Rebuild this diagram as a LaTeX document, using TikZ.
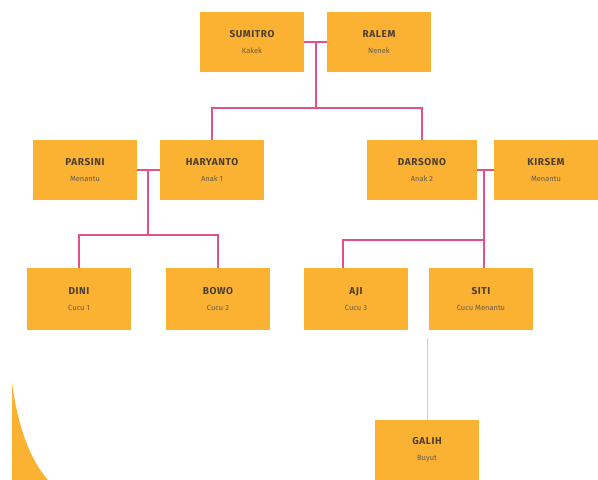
\documentclass[tikz,border=0pt]{standalone}
\usepackage{fontspec}
\setmainfont{Fira Sans}
\newfontfamily\namefont[LetterSpace=6]{Fira Sans}
\definecolor{boxyellow}{HTML}{FBB233}
\definecolor{linkpink}{HTML}{E5508A}
\definecolor{faintpink}{HTML}{EDBFD0}
\definecolor{namegray}{HTML}{4A3E30}
\newcommand{\person}[2]{{\namefont\fontsize{10}{11}\selectfont\bfseries #1}\\[4pt]{\fontsize{7.5}{8}\selectfont\color{namegray!85} #2}}
\begin{document}
\begin{tikzpicture}[
        x=1pt, y=-1pt,
        personn/.style={fill=boxyellow, minimum width=104pt, minimum height=60pt, align=center, inner sep=0pt, text=namegray},
        link/.style={draw=linkpink, line width=1.3pt},
        faintlink/.style={draw=faintpink, line width=0.8pt},
    ]
    \useasboundingbox (0,0) rectangle (598,480);
    % corner decoration
    \fill[boxyellow] (12,382) .. controls (18,430) and (32,462) .. (48,480) -- (12,480) -- cycle;
    % generation 1
    \node[personn](sumitro) at (252,42){\person{SUMITRO}{Kakek}};
    \node[personn](ralem) at (379,42){\person{RALEM}{Nenek}};
    % generation 2
    \node[personn](parsini) at (85,170){\person{PARSINI}{Menantu}};
    \node[personn](haryanto) at (212,170){\person{HARYANTO}{Anak 1}};
    \node[personn, minimum width=110pt](darsono) at (422,170){\person{DARSONO}{Anak 2}};
    \node[personn](kirsem) at (546,170){\person{KIRSEM}{Menantu}};
    % generation 3
    \node[personn, minimum height=62pt](dini) at (79,299){\person{DINI}{Cucu 1}};
    \node[personn, minimum height=62pt](bowo) at (218,299){\person{BOWO}{Cucu 2}};
    \node[personn, minimum height=62pt](aji) at (356,299){\person{AJI}{Cucu 3}};
    \node[personn, minimum height=62pt](siti) at (481,299){\person{SITI}{Cucu Menantu}};
    % generation 4
    \node[personn](galih) at (427,450){\person{GALIH}{Buyut}};
    % connectors
    \coordinate (c1) at (316,42);
    \coordinate (c1b) at (316,108);
    \draw[link] (sumitro.east) -- (ralem.west);
    \draw[link] (c1) -- (c1b);
    \draw[link] (haryanto.north) |- (c1b) -| (darsono.north);
    \coordinate (c2) at (148,170);
    \coordinate (c2b) at (148,235);
    \draw[link] (parsini.east) -- (haryanto.west);
    \draw[link] (c2) -- (c2b);
    \draw[link] (dini.north) |- (c2b) -| (bowo.north);
    \coordinate (c3) at (484,170);
    \coordinate (c3b) at (484,240);
    \coordinate (c3a) at (343,268);
    \draw[link] (darsono.east) -- (kirsem.west);
    \draw[link] (c3) -- (siti.north -| c3);
    \draw[link] (c3b) -| (c3a);
    \coordinate (g0) at (427,338);
    \draw[faintlink] (g0) -- (galih.north);
\end{tikzpicture}
\end{document}
